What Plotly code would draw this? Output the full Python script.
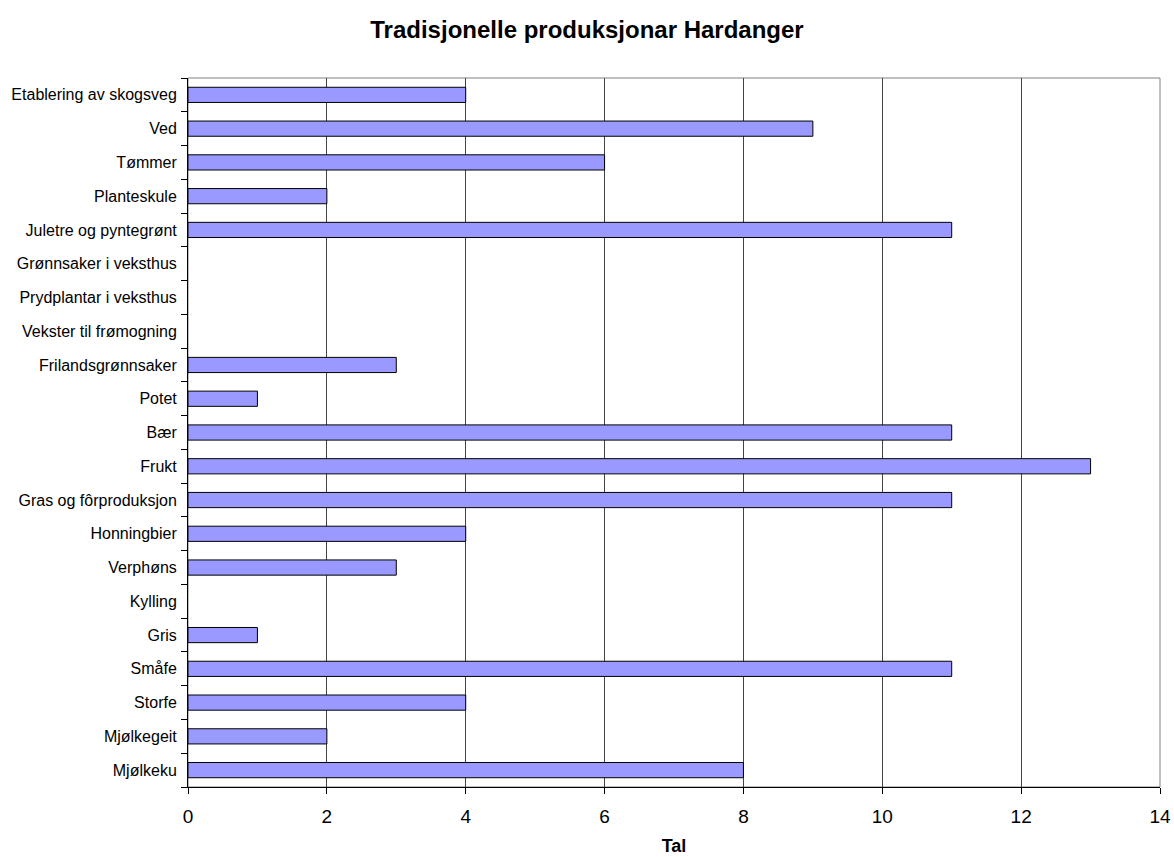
import plotly.graph_objects as go

categories = ["Mjølkeku", "Mjølkegeit", "Storfe", "Småfe", "Gris", "Kylling", "Verphøns",
              "Honningbier", "Gras og fôrproduksjon", "Frukt", "Bær", "Potet",
              "Frilandsgrønnsaker", "Vekster til frømogning", "Prydplantar i veksthus",
              "Grønnsaker i veksthus", "Juletre og pyntegrønt", "Planteskule", "Tømmer",
              "Ved", "Etablering av skogsveg"]
values = [8, 2, 4, 11, 1, 0, 3, 4, 11, 13, 11, 1, 3, 0, 0, 0, 11, 2, 6, 9, 4]
x_ticks = [0, 2, 4, 6, 8, 10, 12, 14]

font = "Liberation Sans, Arial, sans-serif"

fig = go.Figure(go.Bar(
    y=categories, x=[v if v else None for v in values], orientation="h",
    marker=dict(color="#9999FF", line=dict(color="#000000", width=1)),
    width=0.45,
))

fig.update_layout(
    width=1174, height=857,
    paper_bgcolor="white", plot_bgcolor="white",
    margin=dict(l=188, r=14, t=78, b=70),
    title=dict(text="<b>Tradisjonelle produksjonar Hardanger</b>", x=0.5,
               xanchor="center", y=1 - 30 / 857, yanchor="middle",
               font=dict(family=font, size=24, color="black")),
    font=dict(family=font, size=16, color="black"),
    showlegend=False,
    shapes=[dict(type="rect", xref="paper", yref="paper", x0=0, x1=1, y0=0, y1=1,
                 line=dict(color="#808080", width=1), layer="below")],
)

fig.update_xaxes(
    range=[0, 14], tickvals=x_ticks, ticktext=[str(t) for t in x_ticks],
    showgrid=True, gridcolor="#444444", gridwidth=1,
    showline=True, linecolor="black", linewidth=1,
    ticks="outside", ticklen=6, tickcolor="black",
    tickfont=dict(size=19), zeroline=False, automargin=False,
    ticklabelstandoff=6,
    title=dict(text="<b>Tal</b>", font=dict(size=18), standoff=13),
)
fig.update_yaxes(
    type="category", categoryorder="array", categoryarray=categories,
    range=[-0.5, len(categories) - 0.5],
    showline=True, linecolor="black", linewidth=1,
    ticks="outside", ticklen=6, tickcolor="black", tickson="boundaries",
    showgrid=False, tickfont=dict(size=16), automargin=False,
    ticklabelstandoff=7,
)

fig.write_html("out.html", config={"displayModeBar": False},
               post_script="document.body.style.margin='0';")
